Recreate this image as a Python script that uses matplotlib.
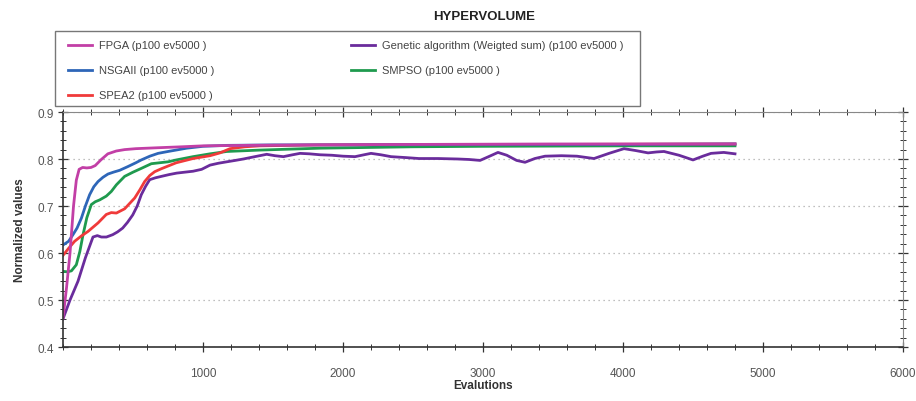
import matplotlib
matplotlib.use("Agg")
import matplotlib.pyplot as plt
from matplotlib.ticker import MultipleLocator
from matplotlib.patches import Rectangle

plt.rcParams['font.family'] = ['Liberation Sans', 'DejaVu Sans']

# hypervolume per evaluation count
fpga_x = [0, 25, 50, 75, 95, 115, 140, 170, 200, 230, 270, 320, 380, 440, 520, 680, 850, 1000, 1300, 1700, 2500, 3500, 4800]
fpga_y = [0.462, 0.526, 0.60, 0.70, 0.755, 0.778, 0.782, 0.781, 0.782, 0.786, 0.798, 0.811, 0.817, 0.820, 0.822, 0.824, 0.826, 0.828, 0.829, 0.830, 0.831, 0.832, 0.832]

nsga_x = [0, 40, 71, 100, 131, 160, 190, 220, 250, 285, 321, 360, 405, 464, 520, 559, 620, 679, 750, 807, 883, 1000, 1169, 1500, 2000, 3000, 4000, 4800]
nsga_y = [0.617, 0.625, 0.639, 0.653, 0.674, 0.700, 0.724, 0.741, 0.752, 0.761, 0.768, 0.772, 0.776, 0.784, 0.792, 0.798, 0.806, 0.812, 0.816, 0.819, 0.823, 0.827, 0.829, 0.830, 0.830, 0.831, 0.831, 0.832]

spea_x = [0, 40, 83, 130, 179, 250, 309, 345, 381, 440, 512, 550, 583, 620, 655, 700, 750, 809, 929, 1050, 1121, 1193, 1300, 1407, 1836, 2500, 3500, 4800]
spea_y = [0.595, 0.610, 0.625, 0.636, 0.646, 0.664, 0.682, 0.686, 0.685, 0.694, 0.717, 0.735, 0.752, 0.765, 0.773, 0.779, 0.785, 0.792, 0.801, 0.807, 0.813, 0.822, 0.826, 0.828, 0.830, 0.831, 0.831, 0.832]

ga_x = [0, 50, 107, 160, 214, 245, 274, 310, 355, 390, 426, 460, 498, 530, 559, 590, 619, 660, 702, 760, 812, 870, 929, 990, 1050, 1110, 1169, 1230, 1288, 1370, 1455, 1514, 1574, 1640, 1693, 1760, 1836, 1920, 2000, 2086, 2150, 2200, 2270, 2343, 2450, 2543, 2680, 2821, 2900, 2979, 3040, 3107, 3170, 3240, 3300, 3370, 3443, 3560, 3671, 3793, 3900, 4007, 4090, 4179, 4240, 4293, 4400, 4500, 4570, 4629, 4720, 4800]
ga_y = [0.460, 0.500, 0.540, 0.590, 0.634, 0.637, 0.634, 0.634, 0.639, 0.645, 0.653, 0.665, 0.681, 0.700, 0.724, 0.742, 0.756, 0.760, 0.763, 0.767, 0.770, 0.772, 0.774, 0.778, 0.787, 0.791, 0.794, 0.797, 0.800, 0.805, 0.810, 0.807, 0.805, 0.809, 0.812, 0.811, 0.809, 0.808, 0.806, 0.805, 0.809, 0.812, 0.809, 0.805, 0.803, 0.801, 0.801, 0.800, 0.799, 0.797, 0.805, 0.814, 0.808, 0.797, 0.793, 0.801, 0.806, 0.807, 0.806, 0.801, 0.812, 0.822, 0.818, 0.813, 0.815, 0.816, 0.808, 0.798, 0.806, 0.812, 0.814, 0.811]

smpso_x = [0, 30, 60, 95, 120, 143, 170, 202, 230, 262, 309, 345, 381, 440, 500, 559, 631, 690, 750, 809, 929, 1050, 1169, 1407, 1836, 2500, 3000, 4000, 4800]
smpso_y = [0.561, 0.560, 0.562, 0.575, 0.603, 0.639, 0.675, 0.703, 0.709, 0.713, 0.721, 0.731, 0.745, 0.763, 0.772, 0.780, 0.790, 0.792, 0.794, 0.798, 0.805, 0.811, 0.816, 0.819, 0.823, 0.826, 0.827, 0.828, 0.828]

labels = ["FPGA (p100 ev5000 )", "NSGAII (p100 ev5000 )", "SPEA2 (p100 ev5000 )",
          "Genetic algorithm (Weigted sum) (p100 ev5000 )", "SMPSO (p100 ev5000 )"]
colors = ["#c23fa6", "#2e66b8", "#f03a3a", "#6a2c9c", "#1f9a4e"]

fig = plt.figure(figsize=(9.16, 4.02), dpi=100)
ax = fig.add_axes([0.0688, 0.1343, 0.917, 0.5846])

series = [(fpga_x, fpga_y), (nsga_x, nsga_y), (spea_x, spea_y), (ga_x, ga_y), (smpso_x, smpso_y)]
# draw order: purple under the rest, magenta on top
order = [3, 4, 2, 1, 0]
handles = {}
for i in order:
    xs, ys = series[i]
    h, = ax.plot(xs, ys, color=colors[i], lw=2, label=labels[i], solid_joinstyle='round')
    handles[i] = h

ax.set_xlim(0, 6000)
ax.set_ylim(0.4, 0.9)
ax.xaxis.set_minor_locator(MultipleLocator(200))
ax.yaxis.set_minor_locator(MultipleLocator(0.02))
ax.set_xticks([1000, 2000, 3000, 4000, 5000, 6000])
ax.set_yticks([0.4, 0.5, 0.6, 0.7, 0.8, 0.9])
ax.set_yticklabels(["0.4", "0.5", "0.6", "0.7", "0.8", "0.9"])
ax.tick_params(which='both', direction='inout', top=True, right=True, colors='#333333',
               labelcolor='#555555', labelsize=8.5)
ax.tick_params(which='major', length=7, width=0.9)
ax.tick_params(which='minor', length=4, width=0.7)
ax.tick_params(axis='x', which='major', pad=11)
ax.tick_params(axis='y', which='major', pad=3)

for s in ['left', 'bottom']:
    ax.spines[s].set_color('#333333')
    ax.spines[s].set_linewidth(1.2)
for s in ['top', 'right']:
    ax.spines[s].set_color('#888888')
    ax.spines[s].set_linewidth(0.8)

ax.grid(axis='y', which='major', linestyle=(0, (1, 3)), color='#aaaaaa', lw=0.9)

ax.set_xlabel("Evalutions", fontsize=8.5, fontweight='bold', color='#333333', labelpad=0)
ax.set_ylabel("Normalized values", fontsize=8.5, fontweight='bold', color='#333333', labelpad=8)
fig.text(0.528, 0.958, "HYPERVOLUME", ha='center', va='center', fontsize=9.5, fontweight='bold', color='#222222')

# legend: frame drawn separately, two columns placed as in the original
fig.add_artist(Rectangle((0.060, 0.7338), 0.6387, 0.1866, transform=fig.transFigure,
                         fill=False, edgecolor='#777777', lw=1.0))
leg_kw = dict(loc='upper left', fontsize=8, frameon=False, handlelength=2.2,
              handletextpad=0.6, labelspacing=1.35, borderaxespad=0, borderpad=0)
leg1 = fig.legend([handles[i] for i in (0, 1, 2)], labels[:3], bbox_to_anchor=(0.0742, 0.897), **leg_kw)
leg2 = fig.legend([handles[i] for i in (3, 4)], labels[3:], bbox_to_anchor=(0.383, 0.897), **leg_kw)
for leg in (leg1, leg2):
    for t in leg.get_texts():
        t.set_color('#444444')

fig.savefig("out.png", dpi=100)
